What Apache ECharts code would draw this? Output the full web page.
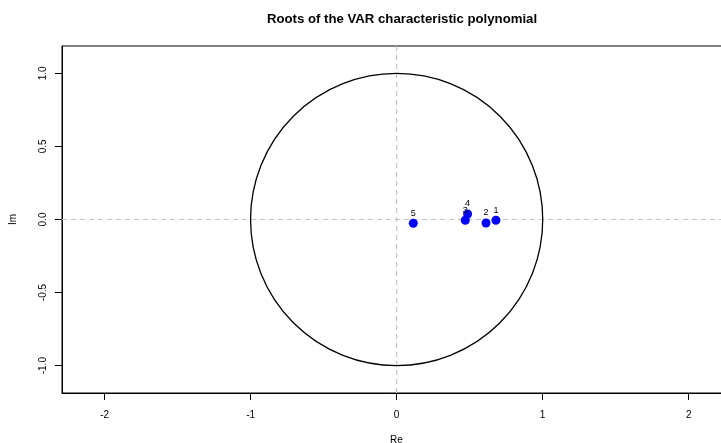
<!DOCTYPE html>
<html>
<head>
<meta charset="utf-8">
<script src="https://cdn.jsdelivr.net/npm/echarts@6/dist/echarts.min.js"></script>
<style>html,body{margin:0;padding:0;background:#fff;}#c{width:721px;height:443px;}</style>
</head>
<body>
<div id="c"></div>
<script>
const rootLabels = ['1', '2', '3', '4', '5'];
const rootRe = [0.680, 0.612, 0.470, 0.486, 0.114];
const rootIm = [-0.005, -0.024, -0.005, 0.038, -0.026];
const xTicks = [-2, -1, 0, 1, 2];
const yTicks = [-1.0, -0.5, 0.0, 0.5, 1.0];
const circleRadius = 1;
const xLim = [-2.292, 2.290];
const yLim = [-1.187, 1.187];

const chart = echarts.init(document.getElementById('c'), null, {renderer: 'canvas'});
const font = 'Liberation Sans, Arial, Helvetica, sans-serif';

const dashStyle = {color: '#c4c4c4', type: [5, 4], width: 1.2};

chart.setOption({
  animation: false,
  backgroundColor: '#ffffff',
  title: {
    text: 'Roots of the VAR characteristic polynomial',
    left: 397, top: 8, textAlign: 'center',
    textStyle: {fontFamily: font, fontSize: 13.2, fontWeight: 'bold', color: '#000'}
  },
  grid: {left: 62, top: 46, width: 669, height: 347, show: true, borderColor: '#000', borderWidth: 1,
    backgroundColor: 'transparent', outerBoundsMode: 'none', containLabel: false},
  xAxis: {
    type: 'value', min: xLim[0], max: xLim[1],
    name: 'Re', nameLocation: 'middle', nameGap: 42,
    nameTextStyle: {fontFamily: font, fontSize: 10, color: '#000'},
    axisLine: {show: true, onZero: false, lineStyle: {color: '#000', width: 1}},
    axisTick: {show: true, inside: false, length: 7, customValues: xTicks, lineStyle: {color: '#000'}},
    axisLabel: {show: true, margin: 17, customValues: xTicks, fontFamily: font, fontSize: 10, color: '#000',
      formatter: v => String(v)},
    splitLine: {show: false}
  },
  yAxis: {
    type: 'value', min: yLim[0], max: yLim[1],
    name: 'Im', nameLocation: 'middle', nameGap: 44,
    nameTextStyle: {fontFamily: font, fontSize: 10, color: '#000'},
    axisLine: {show: true, onZero: false, lineStyle: {color: '#000', width: 1}},
    axisTick: {show: true, inside: false, length: 7, customValues: yTicks, lineStyle: {color: '#000'}},
    axisLabel: {show: true, margin: 19, rotate: 90, customValues: yTicks, fontFamily: font, fontSize: 10, color: '#000',
      formatter: v => v.toFixed(1), verticalAlign: 'middle', align: 'center'},
    splitLine: {show: false}
  },
  series: [
    {
      type: 'line', silent: true, symbol: 'none', z: 1,
      data: [[0, yLim[0]], [0, yLim[1]]],
      lineStyle: dashStyle
    },
    {
      type: 'line', silent: true, symbol: 'none', z: 1,
      data: [[xLim[0], 0], [xLim[1], 0]],
      lineStyle: dashStyle
    },
    {
      type: 'custom',
      silent: true,
      data: [[0, 0, circleRadius]],
      renderItem: function (params, api) {
        const c = api.coord([api.value(0), api.value(1)]);
        const s = api.size([api.value(2), api.value(2)]);
        const r = (s[0] + s[1]) / 2;
        return {
          type: 'circle',
          shape: {cx: c[0], cy: c[1], r: r},
          style: {fill: 'none', stroke: '#000', lineWidth: 1.3}
        };
      },
      z: 2
    },
    {
      type: 'scatter',
      data: rootRe.map((x, i) => [x, rootIm[i]]),
      symbol: 'circle', symbolSize: 9,
      itemStyle: {color: '#0000ff', opacity: 1, borderWidth: 0},
      label: {
        show: true, position: 'top', distance: 1,
        formatter: p => rootLabels[p.dataIndex],
        fontFamily: font, fontSize: 9, color: '#000', textBorderWidth: 0
      },
      z: 5
    }
  ]
});
</script>
</body>
</html>
